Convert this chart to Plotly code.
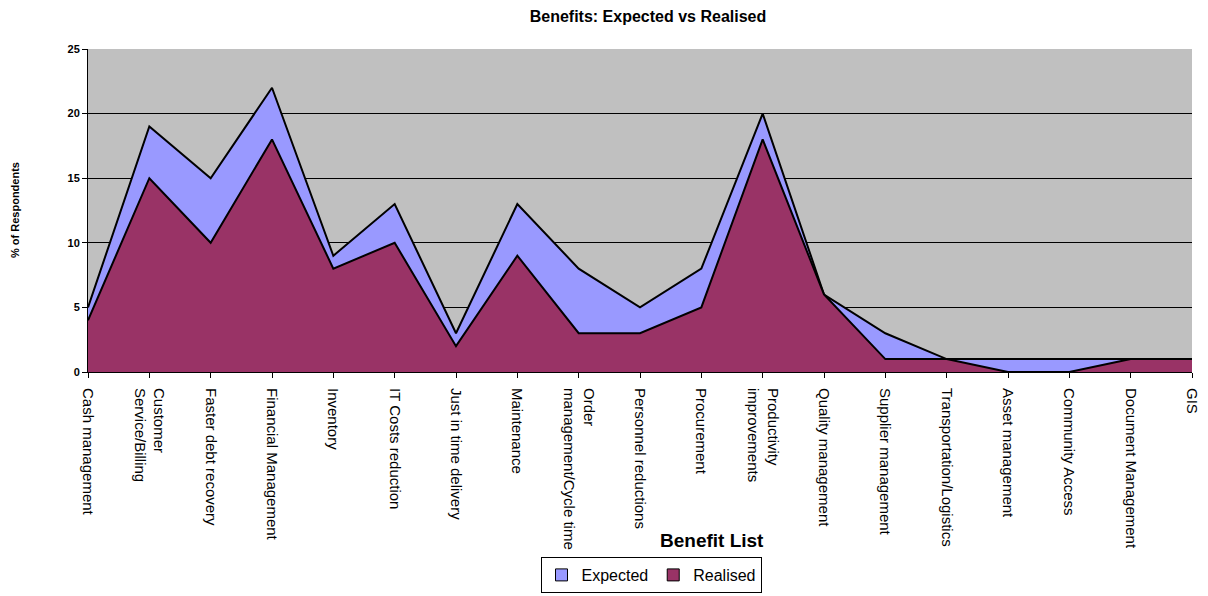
import plotly.graph_objects as go

categories = [
    "Cash management", "Customer<br>Service/Billing", "Faster debt recovery",
    "Financial Management", "Inventory", "IT Costs reduction",
    "Just in time delivery", "Maintenance", "Order<br>management/Cycle time",
    "Personnel reductions", "Procurement", "Productivity<br>improvements",
    "Quality management", "Supplier management", "Transportation/Logistics",
    "Asset management", "Community Access", "Document Management", "GIS",
]
expected = [5, 19, 15, 22, 9, 13, 3, 13, 8, 5, 8, 20, 6, 3, 1, 1, 1, 1, 1]
realised = [4, 15, 10, 18, 8, 10, 2, 9, 3, 3, 5, 18, 6, 1, 1, 0, 0, 1, 1]

EXP_COLOR = "#9999FF"
REA_COLOR = "#993366"
FONT = "Liberation Sans, Arial, sans-serif"

# page body has an 8px default margin; keep the figure inside the window
OFF = 8
W, H = 1192, 588
PLOT_RIGHT = 1192
L = 88 - OFF
T = 49 - OFF
R = (OFF + W) - PLOT_RIGHT
B = H - (372 - OFF)
PW = W - L - R
PH = H - T - B

x_idx = list(range(len(categories)))

fig = go.Figure()
fig.add_trace(go.Scatter(
    x=x_idx, y=expected, mode="lines", fill="tozeroy",
    fillcolor=EXP_COLOR, line=dict(color="black", width=2),
    name="Expected", showlegend=False, hoverinfo="x+y",
))
fig.add_trace(go.Scatter(
    x=x_idx, y=realised, mode="lines", fill="tozeroy",
    fillcolor=REA_COLOR, line=dict(color="black", width=2),
    name="Realised", showlegend=False, hoverinfo="x+y",
))
# legend swatches
for name, col in [("Expected", EXP_COLOR), ("Realised", REA_COLOR)]:
    fig.add_trace(go.Scatter(
        x=[None], y=[None], mode="markers", name=name,
        marker=dict(symbol="square", size=12, color=col,
                    line=dict(color="black", width=1)),
    ))

fig.update_layout(
    width=W, height=H,
    margin=dict(l=L, r=R, t=T, b=B, autoexpand=False),
    paper_bgcolor="white",
    plot_bgcolor="#C0C0C0",
    font=dict(family=FONT, color="black"),
    title=dict(
        text="<b>Benefits: Expected vs Realised</b>",
        font=dict(size=16, family=FONT, color="black"),
        x=(648 - OFF) / W, xanchor="center", y=1 - (16 - OFF) / H, yanchor="middle",
    ),
    showlegend=True,
    legend=dict(
        orientation="h", x=(651 - 88) / PW, xanchor="center",
        y=(596 - 593) / H, yanchor="bottom", yref="container",
        bgcolor="white", bordercolor="black", borderwidth=1,
        font=dict(size=16, family=FONT, color="black"),
        itemwidth=30, tracegroupgap=0,
    ),
    xaxis=dict(
        range=[0, len(categories) - 1],
        tickmode="array", tickvals=x_idx, ticktext=categories,
        tickangle=90, tickfont=dict(size=15, family=FONT, color="black"),
        ticklabeloverflow="allow", ticklabelstandoff=7, automargin=False,
        showgrid=False, zeroline=False,
        showline=True, linecolor="black", linewidth=1,
        ticks="outside", ticklen=5, tickcolor="black",
    ),
    yaxis=dict(
        range=[0, 25], dtick=5, automargin=False,
        tickfont=dict(size=11, family=FONT, color="black", weight="bold"),
        showgrid=True, gridcolor="black", gridwidth=1,
        zeroline=False,
        showline=True, linecolor="black", linewidth=1,
        ticks="outside", ticklen=5, tickcolor="black",
    ),
)

fig.add_annotation(
    text="<b>% of Respondents</b>", xref="paper", yref="paper",
    x=(15 - 88) / PW, y=(372 - 210) / PH, textangle=-90,
    xanchor="center", yanchor="middle", showarrow=False,
    font=dict(size=11, family=FONT, color="black"),
)

fig.add_annotation(
    text="<b>Benefit List</b>", xref="paper", yref="paper",
    x=(712 - 88) / PW, y=-(540 - 372) / PH,
    xanchor="center", yanchor="middle", showarrow=False,
    font=dict(size=19, family=FONT, color="black"),
)

fig.write_html("out.html")
